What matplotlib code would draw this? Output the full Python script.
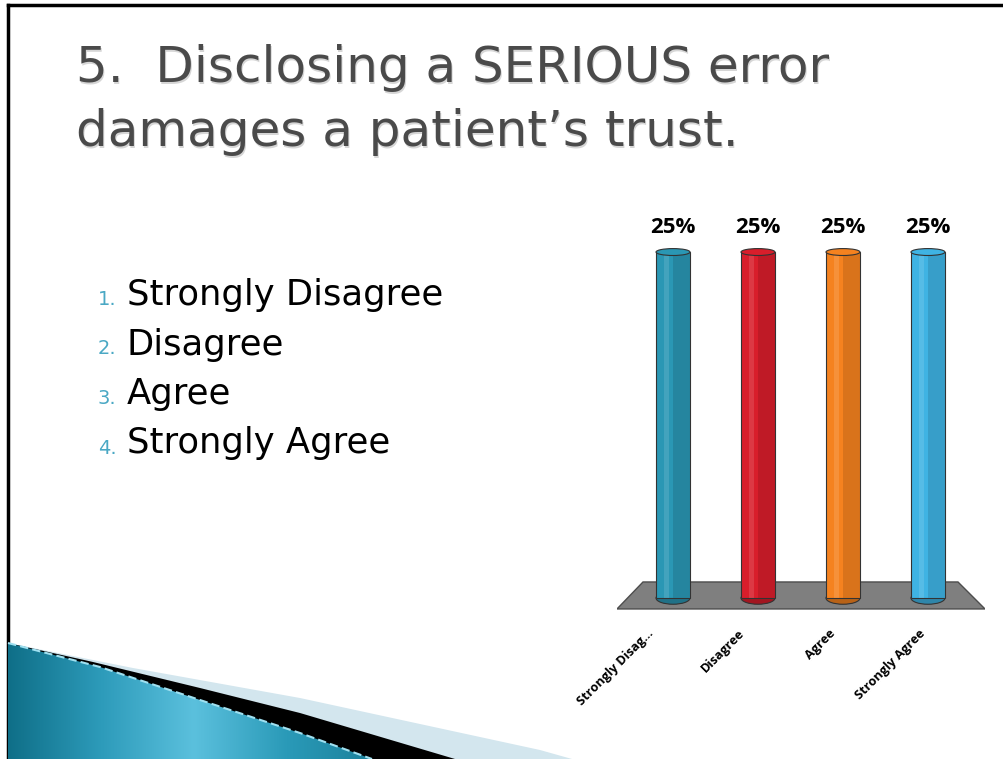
import matplotlib.pyplot as plt
from matplotlib.patches import Polygon, Ellipse
from matplotlib.colors import LinearSegmentedColormap, to_rgb
import numpy as np

# data
categories = ["Strongly Disag...", "Disagree", "Agree", "Strongly Agree"]
answers = ["Strongly Disagree", "Disagree", "Agree", "Strongly Agree"]
percent = [25, 25, 25, 25]
bar_colors = ["#2A97B4", "#D81E2B", "#F5821F", "#3FB3E3"]
title_lines = ["5.  Disclosing a SERIOUS error", "damages a patient\u2019s trust."]

W, H = 1004, 759
fig = plt.figure(figsize=(W / 100, H / 100), dpi=100)
fig.patch.set_facecolor("white")

# background axes in pixel coords for the slide decoration
bg = fig.add_axes([0, 0, 1, 1])
bg.set_xlim(0, W)
bg.set_ylim(H, 0)
bg.axis("off")

# border (top and left)
bg.plot([8, W], [5, 5], color="black", lw=2.5)
bg.plot([8, 8], [5, H], color="black", lw=2.5)

# swoosh bottom left
light = Polygon([(8, 643), (133, 668), (300, 698), (540, 750), (572, H), (8, H)],
                closed=True, fc="#D3E6EE", ec="none")
bg.add_patch(light)
black = Polygon([(8, 643), (93, 662), (200, 688), (300, 713), (455, H), (8, H)],
                closed=True, fc="black", ec="none")
bg.add_patch(black)
teal_pts = [(8, 643), (100, 667), (200, 700), (300, 733), (372, H), (8, H)]
teal = Polygon(teal_pts, closed=True, fc="none", ec="none")
bg.add_patch(teal)
cmap = LinearSegmentedColormap.from_list("sw", ["#0F6F88", "#2D9BBA", "#5BC0DD", "#2A9AB8", "#1A7F99"])
grad = np.linspace(0, 1, 256).reshape(1, -1)
im = bg.imshow(grad, cmap=cmap, extent=(8, 380, H, 640), aspect="auto", zorder=2)
im.set_clip_path(teal)
xs = [p[0] for p in teal_pts[:5]]
ys = [p[1] for p in teal_pts[:5]]
bg.plot(xs, ys, color="#9FE0F0", lw=1.5, ls=(0, (4, 2)), zorder=3)

# title (light shadow under the gray text)
for k, line in enumerate(title_lines):
    bg.text(77.5, 83.5 + k * 64, line, fontsize=36, color="#BBBBBB",
            family="DejaVu Sans", va="baseline", ha="left", alpha=0.6)
    bg.text(76, 82 + k * 64, line, fontsize=36, color="#4A4A4A",
            family="DejaVu Sans", va="baseline", ha="left")

# numbered list
for i, a in enumerate(answers):
    y = 305 + i * 49.5
    bg.text(98, y, f"{i + 1}.", fontsize=14, color="#4AA8C4", va="baseline")
    bg.text(127, y, a, fontsize=25.5, color="black", va="baseline")

# chart axes
ax = fig.add_axes([617 / W, 1 - 612 / H, (985 - 617) / W, (612 - 200) / H])
ax.set_xlim(-0.659, 3.671)
ax.set_ylim(-1.01, 28.76)
ax.axis("off")

# floor
floor = Polygon([(-0.353, 1.16), (3.353, 1.16), (3.671, -0.79), (-0.659, -0.79)],
                closed=True, fc="#7F7F7F", ec="#4D4D4D", lw=1, zorder=1)
ax.add_patch(floor)

bw = 0.4
for i, (v, c) in enumerate(zip(percent, bar_colors)):
    rgb = np.array(to_rgb(c))
    dark = rgb * 0.75
    ax.bar(i, v, width=bw, color=c, edgecolor="#333333", lw=0.8, zorder=3)
    ax.bar(i + bw * 0.25, v, width=bw * 0.5, color=dark, alpha=0.45, lw=0, zorder=4)
    ax.bar(i - bw * 0.2, v, width=bw * 0.15, color="white", alpha=0.12, lw=0, zorder=4)
    ax.add_patch(Ellipse((i, 0), bw, 0.9, fc=dark, ec="#333333", lw=0.8, zorder=2.9))
    ax.add_patch(Ellipse((i, v), bw, 0.5, fc=c, ec="#333333", lw=0.8, zorder=5))
    ax.text(i, v + 1.4, f"{v}%", ha="center", va="baseline", fontsize=16,
            fontweight="bold", family="Open Sans", clip_on=False)

# category labels are spaced a bit wider than the bars in the original
for i, lab in enumerate(categories):
    ax.text(-0.306 + i * 1.067, -2.1, lab, rotation=45, ha="right", va="top",
            rotation_mode="anchor", fontsize=9.2, fontweight="bold",
            family="Open Sans", clip_on=False)

fig.savefig("out.png", dpi=100)
